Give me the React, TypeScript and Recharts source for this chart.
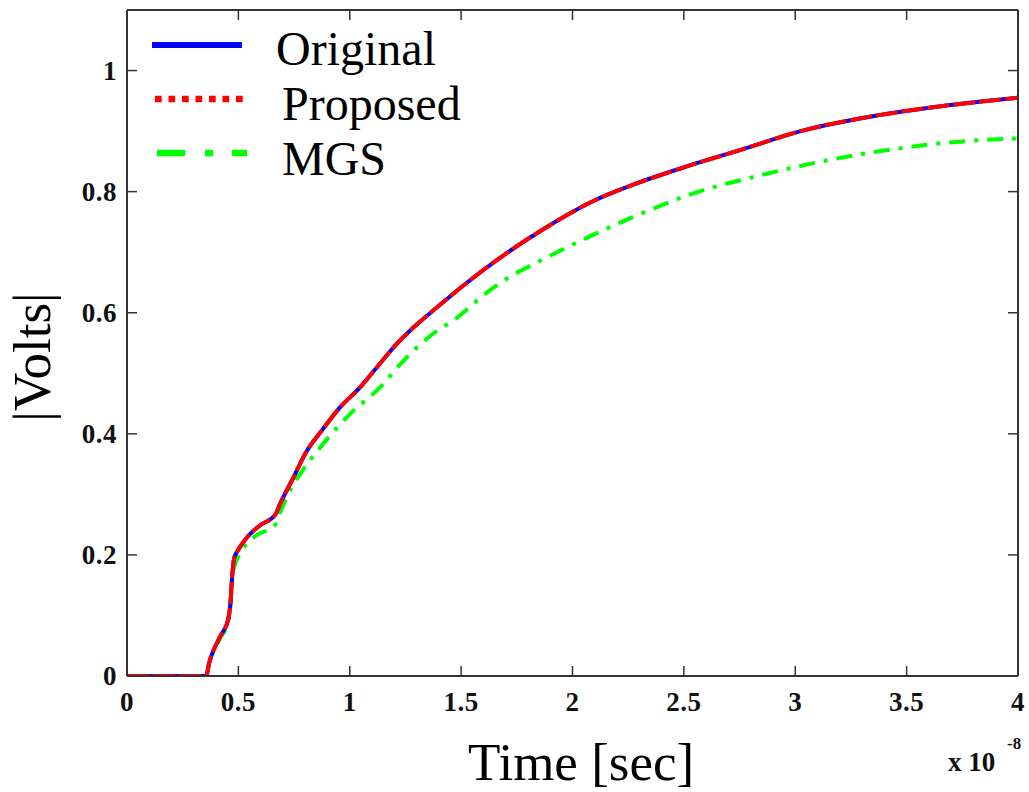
import React from 'react';
import { LineChart, Line, XAxis, YAxis, Legend } from 'recharts';

// Time axis values (x 10^-8 sec) and voltages
const originalTime = [0, 0.2, 0.355, 0.369, 0.418, 0.454, 0.463, 0.472, 0.481, 0.494, 0.539, 0.598, 0.665, 0.688, 0.746, 0.8, 0.882, 0.957, 1.047, 1.122, 1.212, 1.287, 1.392, 1.527, 1.676, 1.856, 2.096, 2.276, 2.516, 2.755, 3.025, 3.354, 3.654, 4.0];
const originalVolts = [0, 0, 0, 0.022, 0.065, 0.093, 0.115, 0.164, 0.195, 0.205, 0.229, 0.249, 0.266, 0.285, 0.327, 0.367, 0.409, 0.444, 0.477, 0.51, 0.549, 0.576, 0.609, 0.65, 0.691, 0.735, 0.785, 0.812, 0.842, 0.869, 0.9, 0.925, 0.941, 0.955];

const proposedTime = [0, 0.2, 0.355, 0.369, 0.418, 0.454, 0.463, 0.472, 0.481, 0.494, 0.539, 0.598, 0.665, 0.688, 0.746, 0.8, 0.882, 0.957, 1.047, 1.122, 1.212, 1.287, 1.392, 1.527, 1.676, 1.856, 2.096, 2.276, 2.516, 2.755, 3.025, 3.354, 3.654, 4.0];
const proposedVolts = [0, 0, 0, 0.022, 0.065, 0.093, 0.115, 0.164, 0.195, 0.205, 0.229, 0.249, 0.266, 0.285, 0.327, 0.367, 0.409, 0.444, 0.477, 0.51, 0.549, 0.576, 0.609, 0.65, 0.691, 0.735, 0.785, 0.812, 0.842, 0.869, 0.9, 0.925, 0.941, 0.955];

const mgsTime = [0, 0.2, 0.355, 0.369, 0.418, 0.454, 0.463, 0.472, 0.485, 0.493, 0.583, 0.658, 0.688, 0.74, 0.778, 0.882, 1.002, 1.137, 1.242, 1.362, 1.482, 1.587, 1.691, 1.856, 2.066, 2.336, 2.575, 2.8, 3.055, 3.384, 3.684, 4.0];
const mgsVolts = [0, 0, 0, 0.02, 0.062, 0.09, 0.11, 0.158, 0.185, 0.192, 0.233, 0.246, 0.271, 0.312, 0.334, 0.384, 0.433, 0.477, 0.521, 0.562, 0.592, 0.625, 0.653, 0.686, 0.724, 0.768, 0.801, 0.823, 0.845, 0.867, 0.881, 0.888];

const xTicks = [0, 0.5, 1, 1.5, 2, 2.5, 3, 3.5, 4];
const xTickLabels = ['0', '0.5', '1', '1.5', '2', '2.5', '3', '3.5', '4'];
const yTicks = [0, 0.2, 0.4, 0.6, 0.8, 1];
const yTickLabels = ['0', '0.2', '0.4', '0.6', '0.8', '1'];

const seriesNames = ['Original', 'Proposed', 'MGS'];

const toData = (ts: number[], vs: number[]) => ts.map((t, i) => ({ t, v: vs[i] }));

const originalData = toData(originalTime, originalVolts);
const proposedData = toData(proposedTime, proposedVolts);
const mgsData = toData(mgsTime, mgsVolts);

const SERIF = '"Liberation Serif", "Times New Roman", serif';
const AXIS = '#333';
const TICK_LEN = 10;
const PLOT_TOP = 10;
const PLOT_BOTTOM = 676;
const PLOT_LEFT = 127;
const PLOT_RIGHT = 1018;

const BottomTick = (props: any) => {
  const { x, payload, index } = props;
  const y = PLOT_BOTTOM;
  return (
    <g>
      <line x1={x} y1={y} x2={x} y2={y - TICK_LEN} stroke={AXIS} strokeWidth={1.5} />
      <text x={x} y={y + 35} textAnchor="middle" fontFamily={SERIF} fontWeight="bold" fontSize={27} fill="#111" letterSpacing={0.5}>
        {xTickLabels[xTicks.indexOf(payload.value)] ?? xTickLabels[index]}
      </text>
    </g>
  );
};

const TopTick = (props: any) => {
  const { x } = props;
  const y = PLOT_TOP;
  return <line x1={x} y1={y} x2={x} y2={y + TICK_LEN} stroke={AXIS} strokeWidth={1.5} />;
};

const LeftTick = (props: any) => {
  const { y, payload, index } = props;
  const x = PLOT_LEFT;
  return (
    <g>
      <line x1={x} y1={y} x2={x + TICK_LEN} y2={y} stroke={AXIS} strokeWidth={1.5} />
      <text x={x - 10} y={y + 9} textAnchor="end" fontFamily={SERIF} fontWeight="bold" fontSize={27} fill="#111" letterSpacing={0.5}>
        {yTickLabels[yTicks.indexOf(payload.value)] ?? yTickLabels[index]}
      </text>
    </g>
  );
};

const RightTick = (props: any) => {
  const { y } = props;
  const x = PLOT_RIGHT;
  return <line x1={x} y1={y} x2={x - TICK_LEN} y2={y} stroke={AXIS} strokeWidth={1.5} />;
};

const LegendBox = () => {
  const rows = [
    { name: seriesNames[0], ty: 65, tx: 276, line: <line x1={152} x2={242} y1={45} y2={45} stroke="#0000ff" strokeWidth={6} /> },
    { name: seriesNames[1], ty: 120, tx: 282, line: <line x1={155} x2={245} y1={99} y2={99} stroke="#ff0000" strokeWidth={6.5} strokeDasharray="6.7 6.8" /> },
    { name: seriesNames[2], ty: 175, tx: 282, line: <line x1={157} x2={247} y1={153} y2={153} stroke="#00ff00" strokeWidth={6.5} strokeDasharray="28 20 8 19" /> },
  ];
  return (
    <svg width={480} height={200} style={{ position: 'absolute', left: 0, top: 0, overflow: 'visible' }}>
      {rows.map((r) => (
        <g key={r.name}>
          {r.line}
          <text x={r.tx} y={r.ty} fontFamily={SERIF} fontSize={48} fill="#000">{r.name}</text>
        </g>
      ))}
    </svg>
  );
};

export default function App() {
  return (
    <div style={{ position: 'absolute', left: 0, top: 0, width: 1029, height: 792, background: '#fff' }}>
      <LineChart
        width={1029}
        height={792}
        margin={{ top: PLOT_TOP - 1, right: 1029 - PLOT_RIGHT - 1, bottom: 792 - PLOT_BOTTOM - 1, left: PLOT_LEFT - 1 }}
        style={{ position: 'absolute', left: 0, top: 0 }}
      >
        <XAxis
          xAxisId="b"
          dataKey="t"
          type="number"
          domain={[0, 4]}
          ticks={xTicks}
          height={1}
          tickSize={0}
          tickMargin={0}
          tickLine={false}
          axisLine={{ stroke: AXIS, strokeWidth: 2 }}
          tick={<BottomTick />}
          interval={0}
          allowDataOverflow
        />
        <XAxis
          xAxisId="top"
          orientation="top"
          dataKey="t"
          type="number"
          domain={[0, 4]}
          ticks={xTicks}
          height={1}
          tickSize={0}
          tickMargin={0}
          tickLine={false}
          axisLine={{ stroke: AXIS, strokeWidth: 2 }}
          tick={<TopTick />}
          interval={0}
          allowDataOverflow
        />
        <YAxis
          yAxisId="l"
          type="number"
          domain={[0, 1.1]}
          ticks={yTicks}
          width={1}
          tickSize={0}
          tickMargin={0}
          tickLine={false}
          axisLine={{ stroke: AXIS, strokeWidth: 2 }}
          tick={<LeftTick />}
          interval={0}
          allowDataOverflow
        />
        <YAxis
          yAxisId="r"
          orientation="right"
          type="number"
          domain={[0, 1.1]}
          ticks={yTicks}
          width={1}
          tickSize={0}
          tickMargin={0}
          tickLine={false}
          axisLine={{ stroke: AXIS, strokeWidth: 2 }}
          tick={<RightTick />}
          interval={0}
          allowDataOverflow
        />
        <Line
          xAxisId="b"
          yAxisId="l"
          data={mgsData}
          dataKey="v"
          name={seriesNames[2]}
          type="monotone"
          stroke="#00ff00"
          strokeWidth={4}
          strokeDasharray="16 9 4 9"
          dot={false}
          isAnimationActive={false}
        />
        <Line
          xAxisId="b"
          yAxisId="l"
          data={originalData}
          dataKey="v"
          name={seriesNames[0]}
          type="monotone"
          stroke="#0000ff"
          strokeWidth={4}
          dot={false}
          isAnimationActive={false}
        />
        <Line
          xAxisId="b"
          yAxisId="l"
          data={proposedData}
          dataKey="v"
          name={seriesNames[1]}
          type="monotone"
          stroke="#ff0000"
          strokeWidth={4}
          strokeDasharray="22 4"
          dot={false}
          isAnimationActive={false}
        />
        <Legend content={() => <LegendBox />} wrapperStyle={{ position: 'absolute', left: 0, top: 0, width: 0, height: 0 }} />
      </LineChart>
      <svg width={1029} height={792} style={{ position: 'absolute', left: 0, top: 0, pointerEvents: 'none' }}>
        <text x={581} y={780} textAnchor="middle" fontFamily={SERIF} fontSize={53} fill="#000">Time [sec]</text>
        <text x={50} y={357} textAnchor="middle" fontFamily={SERIF} fontSize={53} fill="#000" transform="rotate(-90 50 357)">|Volts|</text>
        <text x={948} y={771} fontFamily={SERIF} fontWeight="bold" fontSize={27} fill="#111">x 10</text>
        <text x={1007} y={749} fontFamily={SERIF} fontWeight="bold" fontSize={17} fill="#111">-8</text>
      </svg>
    </div>
  );
}
